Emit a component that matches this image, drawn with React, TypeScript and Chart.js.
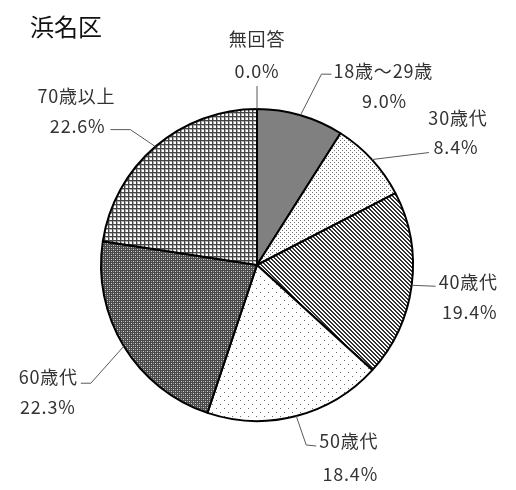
import React, { useEffect, useRef } from "react";
import { Chart, registerables } from "chart.js";

Chart.register(...registerables);

const title = "浜名区";
const categories = ["無回答", "18歳～29歳", "30歳代", "40歳代", "50歳代", "60歳代", "70歳以上"];
const shares = [0.0, 9.0, 8.4, 19.4, 18.4, 22.3, 22.6];

// leader-line bends and text anchors, as offsets from each slice's outer edge point
const labelLayout = [
  { path: [[0, -23]], name: { dx: 0, dy: -70, align: "center" }, pct: { dx: 0, dy: -38, align: "center" } },
  { path: [[21, -41], [31, -41]], name: { dx: 33, dy: -44, align: "left" }, pct: { dx: 84, dy: -14, align: "center" } },
  { path: [[57, -7]], name: { dx: 86, dy: -41, align: "center" }, pct: { dx: 84, dy: -12, align: "center" } },
  { path: [[24, 1]], name: { dx: 27, dy: -3, align: "left" }, pct: { dx: 58, dy: 27, align: "center" } },
  { path: [[10, 29], [20, 30]], name: { dx: 23, dy: 25, align: "left" }, pct: { dx: 54, dy: 58, align: "center" } },
  { path: [[-33, 37], [-43, 37]], name: { dx: -46, dy: 31, align: "right" }, pct: { dx: -76, dy: 61, align: "center" } },
  { path: [[-25, -17], [-45, -17]], name: { dx: -79, dy: -50, align: "center" }, pct: { dx: -50, dy: -20, align: "right" } },
];

function makePattern(size: number, draw: (g: CanvasRenderingContext2D) => void) {
  const c = document.createElement("canvas");
  c.width = size;
  c.height = size;
  const g = c.getContext("2d")!;
  draw(g);
  return g.createPattern(c, "repeat") as CanvasPattern;
}

function buildFills() {
  const solid = "#808080";
  const fineDots = makePattern(4, (g) => {
    g.fillStyle = "#fff";
    g.fillRect(0, 0, 4, 4);
    g.fillStyle = "#707070";
    g.fillRect(0, 0, 1, 1);
    g.fillRect(2, 2, 1, 1);
  });
  const diag = makePattern(4, (g) => {
    g.fillStyle = "#fff";
    g.fillRect(0, 0, 4, 4);
    g.fillStyle = "#333";
    for (let y = 0; y < 4; y++) {
      g.fillRect(y % 4, y, 1, 1);
      g.fillRect((y + 1) % 4, y, 1, 1);
    }
  });
  const sparseDots = makePattern(8, (g) => {
    g.fillStyle = "#fff";
    g.fillRect(0, 0, 8, 8);
    g.fillStyle = "#6a6a6a";
    g.fillRect(0, 0, 1, 1);
    g.fillRect(4, 4, 1, 1);
  });
  const checker = makePattern(4, (g) => {
    g.fillStyle = "#4a4a4a";
    g.fillRect(0, 0, 4, 4);
    g.fillStyle = "#d0d0d0";
    g.fillRect(1, 1, 1, 1);
    g.fillRect(3, 3, 1, 1);
    g.fillStyle = "#909090";
    g.fillRect(1, 3, 1, 1);
    g.fillRect(3, 1, 1, 1);
  });
  const grid = makePattern(4, (g) => {
    g.fillStyle = "#fff";
    g.fillRect(0, 0, 4, 4);
    g.fillStyle = "#b0b0b0";
    g.fillRect(0, 1, 4, 1);
    g.fillRect(1, 0, 1, 4);
    g.fillStyle = "#444";
    g.fillRect(0, 0, 4, 1);
    g.fillRect(0, 0, 1, 4);
  });
  return [solid, solid, fineDots, diag, sparseDots, checker, grid];
}

const FONT = '"Noto Sans CJK JP", "Noto Sans", sans-serif';

const labelPlugin = {
  id: "sliceLabels",
  afterDraw(chart: any) {
    const ctx: CanvasRenderingContext2D = chart.ctx;
    const meta = chart.getDatasetMeta(0);
    ctx.save();
    // title
    ctx.fillStyle = "#111";
    ctx.font = `24px ${FONT}`;
    ctx.textAlign = "left";
    ctx.textBaseline = "middle";
    ctx.fillText(title, 30, 27);

    meta.data.forEach((arc: any, i: number) => {
      const p = arc.getProps(["x", "y", "startAngle", "endAngle", "outerRadius"], true);
      const mid = (p.startAngle + p.endAngle) / 2;
      const ex = p.x + Math.cos(mid) * p.outerRadius;
      const ey = p.y + Math.sin(mid) * p.outerRadius;
      const lay = labelLayout[i];
      ctx.strokeStyle = "#595959";
      ctx.lineWidth = 1;
      ctx.beginPath();
      ctx.moveTo(ex, ey);
      lay.path.forEach(([dx, dy]) => ctx.lineTo(ex + dx, ey + dy));
      ctx.stroke();

      ctx.fillStyle = "#333";
      ctx.font = `18px ${FONT}`;
      (ctx as any).letterSpacing = "0.8px";
      ctx.textBaseline = "middle";
      ctx.textAlign = lay.name.align as CanvasTextAlign;
      ctx.fillText(categories[i], ex + lay.name.dx, ey + lay.name.dy);
      ctx.textAlign = lay.pct.align as CanvasTextAlign;
      ctx.fillText(shares[i].toFixed(1) + "%", ex + lay.pct.dx, ey + lay.pct.dy);
    });
    ctx.restore();
  },
};

export default function App() {
  const ref = useRef<HTMLCanvasElement>(null);
  useEffect(() => {
    document.body.style.margin = "0";
    const chart = new Chart(ref.current!, {
      type: "pie",
      data: {
        labels: categories,
        datasets: [
          {
            data: shares,
            backgroundColor: buildFills() as any,
            borderColor: "#000",
            borderWidth: 2,
          },
        ],
      },
      options: {
        responsive: false,
        animation: false,
        devicePixelRatio: 1,
        layout: { padding: { left: 100, right: 102, top: 108, bottom: 68 } },
        plugins: { legend: { display: false }, tooltip: { enabled: false } },
      },
      plugins: [labelPlugin],
    });
    return () => chart.destroy();
  }, []);
  return (
    <div style={{ width: 516, height: 490, background: "#fff" }}>
      <canvas ref={ref} width={516} height={490} />
    </div>
  );
}
